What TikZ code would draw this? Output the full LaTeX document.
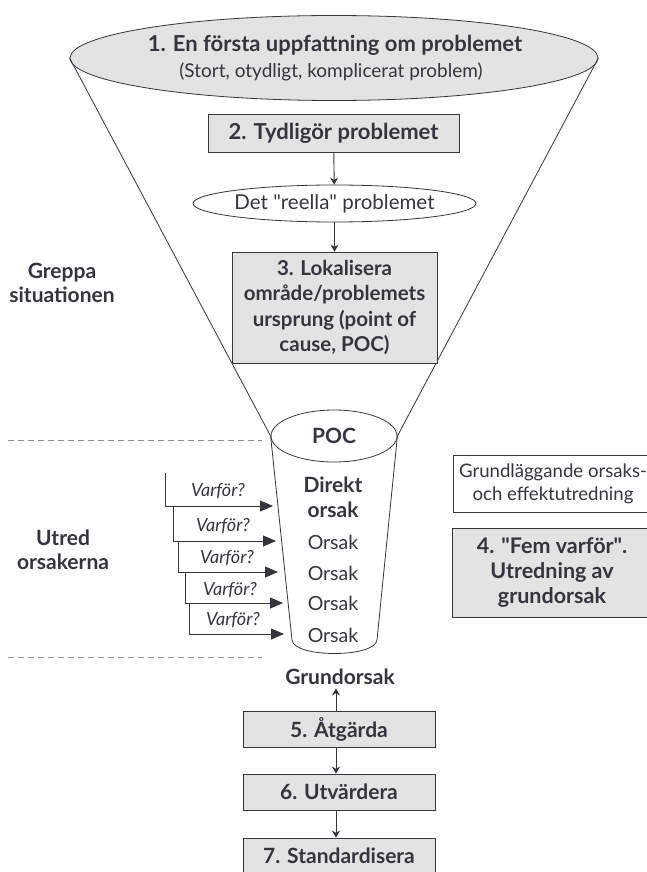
\documentclass[tikz,border=0pt]{standalone}
\usepackage{fontspec}
\setmainfont{Lato}
\usetikzlibrary{shapes.geometric,arrows.meta}
\definecolor{ink}{HTML}{35353C}
\definecolor{boxfill}{HTML}{E3E3E3}
\definecolor{dashcol}{HTML}{8A9096}
\tikzset{
  every node/.style={text=ink},
  outline/.style={draw=ink, line width=0.8pt},
  greybox/.style={outline, fill=boxfill, rectangle, inner sep=0pt, align=center},
  whitebox/.style={outline, fill=white, rectangle, inner sep=0pt, align=center},
  bigell/.style={outline, fill=boxfill, ellipse, inner sep=0pt},
  smallell/.style={outline, fill=white, ellipse, inner sep=0pt},
  ftitle/.style={font=\fontsize{22}{26}\selectfont\bfseries},
  fsub/.style={font=\fontsize{19}{24}\selectfont},
  freel/.style={font=\fontsize{20.5}{24}\selectfont},
  fthree/.style={font=\fontsize{20.5}{25.5}\selectfont\bfseries},
  fcyl/.style={font=\fontsize{21}{25}\selectfont\bfseries},
  fcylreg/.style={font=\fontsize{19.5}{25}\selectfont},
  fside/.style={font=\fontsize{21}{24}\selectfont\bfseries, align=center},
  fstep/.style={font=\fontsize{21}{25}\selectfont\bfseries},
  ffour/.style={font=\fontsize{21.5}{25}\selectfont\bfseries},
  fwhy/.style={font=\fontsize{18}{20}\selectfont\itshape},
  fnote/.style={font=\fontsize{18.6}{23}\selectfont, align=center},
  smallarr/.style={draw=ink, line width=0.9pt, -{Stealth[length=7pt,width=8pt]}},
  whyarr/.style={draw=ink, line width=0.8pt, -{Triangle[length=13pt,width=11pt]}},
  sep/.style={draw=dashcol, line width=0.8pt, dash pattern=on 6pt off 4pt},
}
\begin{document}
\begin{tikzpicture}[x=1pt,y=-1pt]
\useasboundingbox (0,0) rectangle (647,872);
\clip (0,0) rectangle (647,872);
\fill[white] (0,0) rectangle (647,872);

% top ellipse
\node[bigell, minimum width=528pt, minimum height=85pt] (e1) at (334,58) {};
\node[ftitle] (t1) at (335,45) {1. En första uppfattning om problemet};
\node[fsub] (t1b) at (331,72) {(Stort, otydligt, komplicerat problem)};

% POC ellipse
\node[smallell, minimum width=126pt, minimum height=52pt, fcyl] (poc) at (334,436) {POC};

% funnel
\draw[outline] (e1.west) -- (poc.west);
\draw[outline] (e1.east) -- (poc.east);

% cylinder
\coordinate (cbl) at (292,640);
\coordinate (cbr) at (377,640);
\draw[outline] (poc.west) -- (cbl) .. controls (294,658) and (375,658) .. (cbr) -- (poc.east);

% step 2
\node[greybox, ftitle, minimum width=251pt, minimum height=38pt] (b2) at (333.5,133) {2. Tydligör problemet};
\node[smallell, freel, minimum width=267pt, minimum height=37pt] (ree) at (334.5,203.5) {Det \textquotedbl reella\textquotedbl\ problemet};
\node[greybox, fthree, minimum width=205pt, minimum height=111pt] (b3) at (334.5,307.5)
  {3. Lokalisera\\område/problemets\\ursprung (point of\\cause, POC)};
\draw[smallarr] (b2) -- (ree);
\draw[smallarr] (ree) -- (b3);

% left labels
\node[fside] (greppa) at (62,283) {Greppa\\situationen};
\node[fside] (utred) at (63,550) {Utred\\orsakerna};

% separators
\draw[sep] (8,440) -- (262,440);
\draw[sep] (8,657) -- (262,657);

% cylinder texts
\node[fcyl, align=center] (dir) at (333,497) {Direkt\\orsak};
\node[fcylreg] (o2) at (333,542) {Orsak};
\node[fcylreg] (o3) at (333,573) {Orsak};
\node[fcylreg] (o4) at (333,603) {Orsak};
\node[fcylreg] (o5) at (333,635) {Orsak};

% why staircase
\coordinate (s0) at (165,473);
\coordinate (tp1) at (273,506);
\coordinate (tp2) at (276,541);
\coordinate (tp3) at (278,572);
\coordinate (tp4) at (283,603);
\coordinate (tp5) at (284,634);
\draw[whyarr] (s0) |- (tp1);
\draw[whyarr] (173,506) |- (tp2);
\draw[whyarr] (178,541) |- (tp3);
\draw[whyarr] (185,572) |- (tp4);
\draw[whyarr] (189,603) |- (tp5);
\node[fwhy] (w1) at (218,491) {Varför?};
\node[fwhy] (w2) at (223,526) {Varför?};
\node[fwhy] (w3) at (227,558) {Varför?};
\node[fwhy] (w4) at (230,590) {Varför?};
\node[fwhy] (w5) at (233,620) {Varför?};

% right boxes
\node[whitebox, fnote, minimum width=200pt, minimum height=57pt] (g) at (553,483.5)
  {Grundläggande orsaks-\\och effektutredning};
\node[greybox, ffour, minimum width=200pt, minimum height=89pt] (b4) at (552,572.5)
  {4. \textquotedbl Fem varför\textquotedbl .\\Utredning av\\grundorsak};

% bottom steps
\node[fside] (grund) at (340,677) {Grundorsak};
\node[greybox, fstep, minimum width=192pt, minimum height=36pt] (b5) at (339,729) {5. Åtgärda};
\node[greybox, fstep, minimum width=192pt, minimum height=36pt] (b6) at (339,792) {6. Utvärdera};
\node[greybox, fstep, minimum width=192pt, minimum height=36pt] (b7) at (339,856) {7. Standardisera};
\draw[smallarr] (b5.north -| 336,0) -- (grund.south -| 336,0);
\draw[smallarr] (b5.south -| 336,0) -- (b6.north -| 336,0);
\draw[smallarr] (b6.south -| 336,0) -- (b7.north -| 336,0);
\end{tikzpicture}
\end{document}
